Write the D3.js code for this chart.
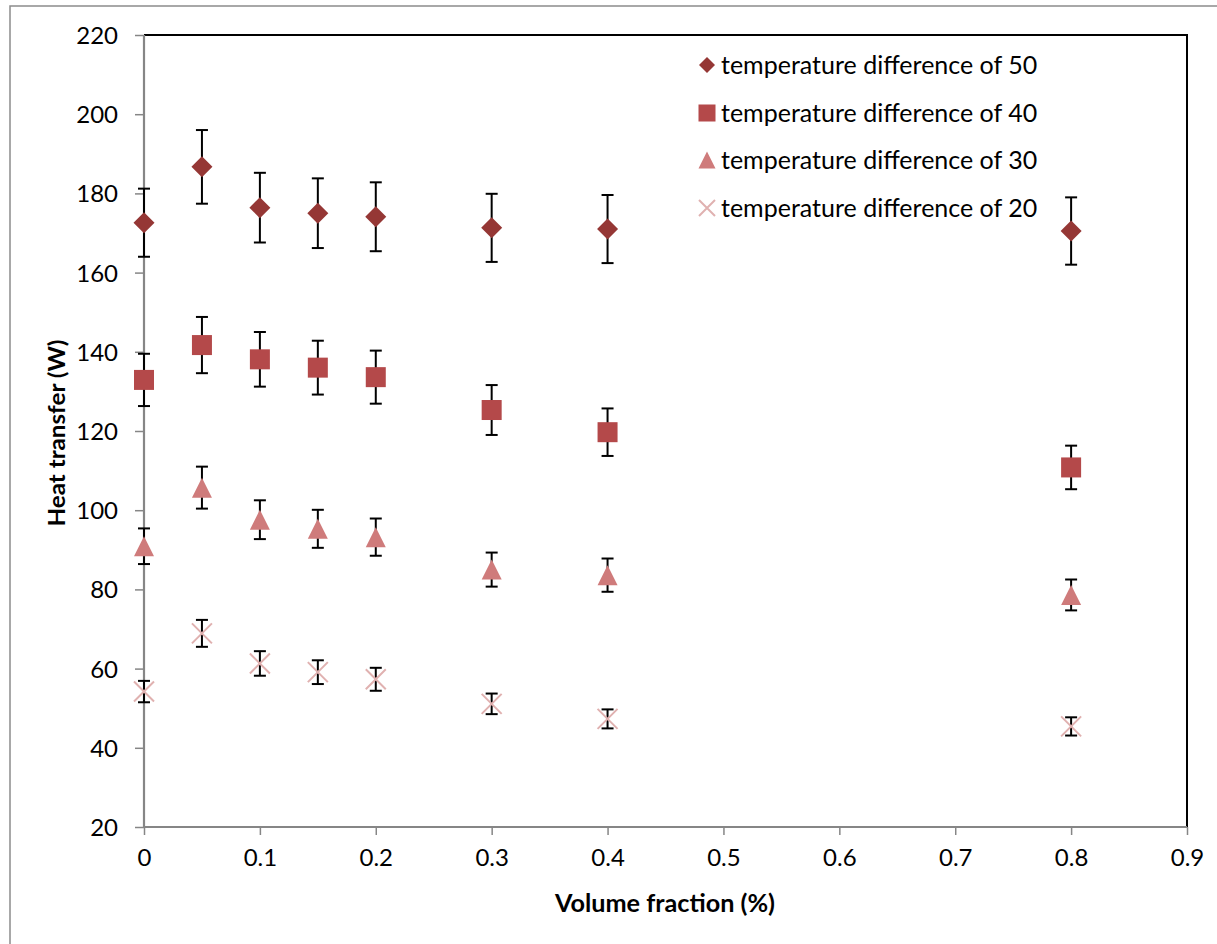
<!DOCTYPE html>
<html>
<head>
<meta charset="utf-8">
<script src="https://cdn.jsdelivr.net/npm/d3@7"></script>
<style>
  html, body { margin: 0; padding: 0; background: #fff; }
  svg { display: block; font-family: Lato, "Open Sans", sans-serif; }
</style>
</head>
<body>
<svg id="chart" width="1217" height="944"></svg>
<script>
// ---- data ----
const volumeFraction = [0, 0.05, 0.1, 0.15, 0.2, 0.3, 0.4, 0.8];
const seriesNames = [
  "temperature difference of 50",
  "temperature difference of 40",
  "temperature difference of 30",
  "temperature difference of 20"
];
const dT50 = [172.6, 186.7, 176.4, 175.0, 174.1, 171.3, 171.0, 170.5];
const dT40 = [132.9, 141.7, 138.1, 136.0, 133.6, 125.3, 119.7, 110.8];
const dT30 = [90.9, 105.7, 97.6, 95.3, 93.2, 85.0, 83.6, 78.6];
const dT20 = [54.2, 68.9, 61.3, 59.1, 57.3, 51.1, 47.3, 45.4];
const err50 = [8.6, 9.3, 8.8, 8.8, 8.7, 8.6, 8.6, 8.5];
const err40 = [6.6, 7.1, 6.9, 6.8, 6.7, 6.3, 6.0, 5.5];
const err30 = [4.5, 5.3, 4.9, 4.8, 4.7, 4.3, 4.2, 3.9];
const err20 = [2.7, 3.4, 3.1, 3.0, 2.9, 2.6, 2.4, 2.3];
const xTicks = [0, 0.1, 0.2, 0.3, 0.4, 0.5, 0.6, 0.7, 0.8, 0.9];
const yTicks = [20, 40, 60, 80, 100, 120, 140, 160, 180, 200, 220];
const xTitle = "Volume fraction (%)";
const yTitle = "Heat transfer (W)";

// ---- styles ----
const colors = ["#953735", "#B4494A", "#CF7B7B", "#E0B1B0"];
const shapes = ["diamond", "square", "triangle", "cross"];
const valuesList = [dT50, dT40, dT30, dT20];
const errList = [err50, err40, err30, err20];

const svg = d3.select("#chart");
const L = 144, R = 1187, T = 35, B = 827;
const x = d3.scaleLinear().domain([0, 0.9]).range([L, R]);
const y = d3.scaleLinear().domain([20, 220]).range([B, T]);

// outer chart border
svg.append("rect").attr("x", 10).attr("y", 6).attr("width", 1230).attr("height", 960)
  .attr("fill", "none").attr("stroke", "#8c8c8c").attr("stroke-width", 1.5);

// plot area border (top/right black)
svg.append("path")
  .attr("d", `M${L},${T}H${R}V${B}`)
  .attr("fill", "none").attr("stroke", "#000").attr("stroke-width", 2);

// axes
const yAxis = d3.axisLeft(y).tickValues(yTicks).tickSize(9).tickPadding(17).tickFormat(d3.format("d"));
const gy = svg.append("g").attr("transform", `translate(${L},0)`).call(yAxis);
const xAxis = d3.axisBottom(x).tickValues(xTicks).tickSize(8).tickPadding(17)
  .tickFormat(d => d === 0 ? "0" : d3.format(".1f")(d));
const gx = svg.append("g").attr("transform", `translate(0,${B})`).call(xAxis);
[gx, gy].forEach(g => {
  g.select(".domain").attr("stroke", "#868686").attr("stroke-width", 2.2);
  g.selectAll(".tick line").attr("stroke", "#868686").attr("stroke-width", 1.5);
  g.selectAll(".tick text").attr("fill", "#000").style("font-size", "24px")
    .style("font-family", "Lato, 'Open Sans', sans-serif");
});
gy.select(".domain").attr("d", `M0,${B}V${T}`);
gx.select(".domain").attr("d", `M${L},0H${R}`);
gy.selectAll(".tick text").attr("dy", "0.35em");
gx.selectAll(".tick text").attr("dy", "0.58em");

// axis titles
svg.append("text").attr("x", 665).attr("y", 912).attr("text-anchor", "middle")
  .style("font-size", "24px").style("font-weight", "bold")
  .attr("textLength", 220).attr("lengthAdjust", "spacingAndGlyphs").text(xTitle);
svg.append("text").attr("transform", `translate(65,${433}) rotate(-90)`).attr("text-anchor", "middle")
  .style("font-size", "23px").style("font-weight", "bold")
  .attr("textLength", 187).attr("lengthAdjust", "spacingAndGlyphs").text(yTitle);

// marker drawing
function marker(g, shape, color, s) {
  if (shape === "diamond") {
    g.append("path").attr("d", `M0,${-s/2}L${s/2},0L0,${s/2}L${-s/2},0Z`).attr("fill", color);
  } else if (shape === "square") {
    g.append("rect").attr("x", -s/2).attr("y", -s/2).attr("width", s).attr("height", s).attr("fill", color);
  } else if (shape === "triangle") {
    g.append("path").attr("d", `M0,${-s/2}L${s/2},${s/2}L${-s/2},${s/2}Z`).attr("fill", color);
  } else {
    g.append("path").attr("d", `M${-s/2},${-s/2}L${s/2},${s/2}M${s/2},${-s/2}L${-s/2},${s/2}`)
      .attr("stroke", color).attr("stroke-width", 2).attr("fill", "none");
  }
}

// error bars
valuesList.forEach((vals, si) => {
  const errs = errList[si];
  const g = svg.append("g");
  vals.forEach((v, i) => {
    const cx = x(volumeFraction[i]);
    const y1 = y(v + errs[i]), y2 = y(v - errs[i]);
    g.append("line").attr("x1", cx).attr("x2", cx).attr("y1", y1).attr("y2", y2)
      .attr("stroke", "#000").attr("stroke-width", 2);
    [y1, y2].forEach(yy => g.append("line").attr("x1", cx - 6).attr("x2", cx + 6)
      .attr("y1", yy).attr("y2", yy).attr("stroke", "#000").attr("stroke-width", 2));
  });
});

// markers
const markerSize = [21, 20, 20, 20];
valuesList.forEach((vals, si) => {
  vals.forEach((v, i) => {
    const g = svg.append("g").attr("transform", `translate(${x(volumeFraction[i])},${y(v)})`);
    marker(g, shapes[si], colors[si], markerSize[si]);
  });
});

// legend
const legendY = [65, 113, 160, 208];
const legendMarkerSize = [16, 17, 17, 16];
seriesNames.forEach((name, si) => {
  const g = svg.append("g").attr("transform", `translate(707,${legendY[si]})`);
  marker(g, shapes[si], colors[si], legendMarkerSize[si]);
  g.append("text").attr("x", 14).attr("y", 0).attr("dy", "0.35em")
    .style("font-size", "25px").attr("fill", "#000").text(name);
});
</script>
</body>
</html>
